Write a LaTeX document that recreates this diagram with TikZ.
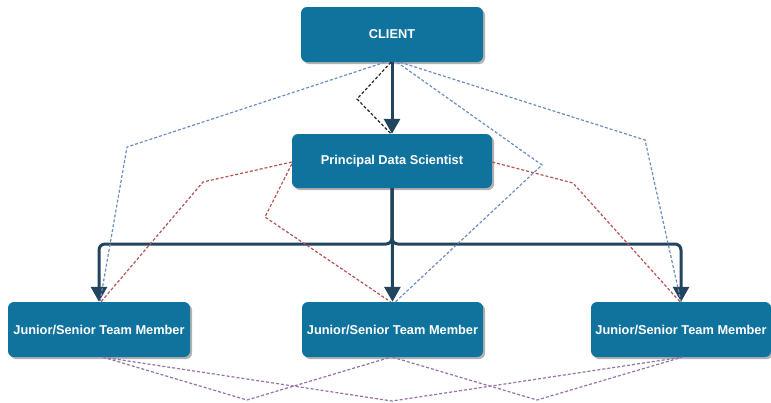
\documentclass[tikz,border=0pt]{standalone}
\usepackage{fontspec}
\setmainfont{Liberation Sans}
\usetikzlibrary{arrows.meta,shadows}
\definecolor{boxfill}{HTML}{10739E}
\definecolor{arrowc}{HTML}{23445D}
\definecolor{bluec}{HTML}{6C8EBF}
\definecolor{redc}{HTML}{B85450}
\definecolor{purplec}{HTML}{9673A6}
\begin{document}
\begin{tikzpicture}[x=1pt,y=-1pt,
  box/.style={rectangle, rounded corners=6pt, fill=boxfill, minimum width=182pt, minimum height=55pt, inner sep=0pt,
    text=white, font=\bfseries\fontsize{12.8}{15}\selectfont,
    drop shadow={shadow xshift=2pt,shadow yshift=-2pt,opacity=0.3,fill=black}},
  main/.style={draw=arrowc, line width=3pt, -{Triangle[length=15pt,width=16pt]}, rounded corners=6pt},
  dotline/.style={line width=1.2pt, dash pattern=on 3pt off 2pt},
  blueline/.style={dotline, draw=bluec},
  redline/.style={dotline, draw=redc},
  purpleline/.style={dotline, draw=purplec},
  blackline/.style={dotline, draw=black!85}]
\useasboundingbox[fill=white] (0,0) rectangle (771,402);

\node[box] (client) at (392,34.5) {CLIENT};
\node[box, minimum width=200pt, minimum height=54pt] (pds) at (392,161) {Principal Data Scientist};
\node[box] (left) at (99,329.5) {Junior/Senior Team Member};
\node[box, minimum width=181pt] (mid) at (392.5,329.5) {Junior/Senior Team Member};
\node[box, minimum width=180pt] (right) at (681,329.5) {Junior/Senior Team Member};

% thick arrows
\draw[main] (client.south) -- (pds.north);
\draw[main] (pds.south) -- (392,244) -| (left.north);
\draw[main] (pds.south) -- (392,244) -| (right.north);
\draw[main] (pds.south) -- (mid.north);

% black dashed
\draw[blackline] ([xshift=-1pt]client.south) -- (357,99) -- ([xshift=-1pt]pds.north);

% blue dotted
\draw[blueline] ([xshift=-7pt]client.south) -- (127,147) -- ([xshift=1pt]left.north);
\draw[blueline] ([xshift=5pt]client.south) -- (542,165) -- ([xshift=3pt]mid.north);
\draw[blueline] ([xshift=8pt]client.south) -- (645,140) -- ([xshift=0pt]right.north);

% red dotted
\draw[redline] ([yshift=-1pt]pds.west) -- (203,182) -- ([xshift=2pt]left.north);
\draw[redline] ([yshift=-3pt]pds.west) -- (265,217) -- ([xshift=-2pt]mid.north);
\draw[redline] ([yshift=-1pt]pds.east) -- (573,183) -- ([xshift=-1pt]right.north);

% purple dotted
\draw[purpleline] ([xshift=4pt]left.south) -- (247,400) -- ([xshift=-2pt]mid.south);
\draw[purpleline] ([xshift=4pt]left.south) -- (392,401) -- ([xshift=1pt]right.south);
\draw[purpleline] (mid.south) -- (537,400) -- ([xshift=1pt]right.south);
\end{tikzpicture}
\end{document}
